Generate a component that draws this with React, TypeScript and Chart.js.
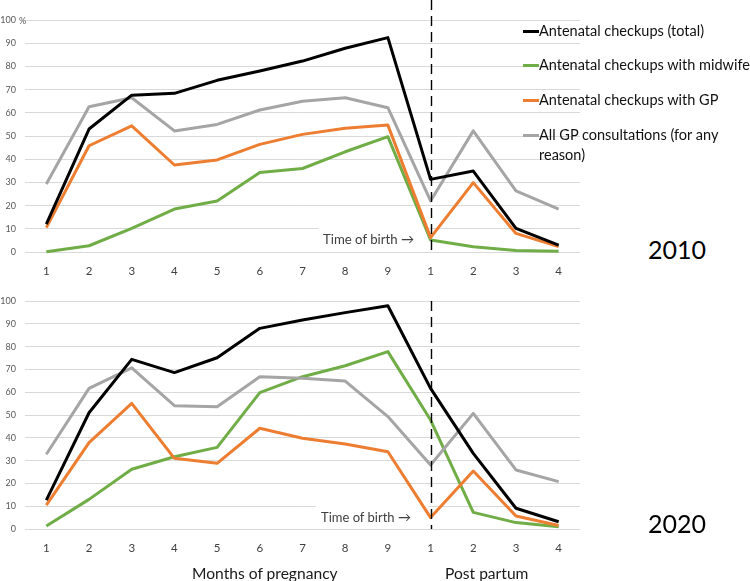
import React, { useEffect, useRef } from "react";
import { Chart, registerables } from "chart.js";

Chart.register(...registerables);

// Months 1–9 of pregnancy, then months 1–4 after birth
const months = ["1", "2", "3", "4", "5", "6", "7", "8", "9", "1", "2", "3", "4"];

const seriesNames = [
  "Antenatal checkups (total)",
  "Antenatal checkups with midwife",
  "Antenatal checkups with GP",
  "All GP consultations (for any reason)",
];
const seriesColors = ["#000000", "#70AD47", "#ED7D31", "#A5A5A5"];

// 2010 (%)
const total2010 = [12, 53, 67.6, 68.4, 74, 78, 82.3, 87.8, 92.4, 31.3, 34.9, 10.2, 3];
const midwife2010 = [0.1, 2.7, 10.2, 18.5, 22, 34.3, 36, 43.2, 49.7, 5.2, 2.3, 0.6, 0.3];
const gp2010 = [10.5, 45.8, 54.4, 37.5, 39.7, 46.4, 50.7, 53.3, 54.7, 6.2, 29.9, 8, 2.3];
const allGp2010 = [29.3, 62.6, 66.5, 52.2, 55, 61.2, 65, 66.5, 62.2, 22, 52.2, 26.3, 18.5];

// 2020 (%)
const total2020 = [12.7, 51, 74.4, 68.6, 75.1, 88, 91.7, 94.9, 97.9, 61.7, 33.2, 9.1, 3.2];
const midwife2020 = [1.3, 13, 26.2, 31.7, 35.8, 59.8, 66.8, 71.6, 77.8, 47.8, 7.3, 2.8, 1];
const gp2020 = [10.5, 37.9, 55.1, 31, 28.8, 44.2, 39.8, 37.3, 33.9, 5, 25.4, 5.7, 1.5];
const allGp2020 = [32.8, 61.7, 70.7, 54.1, 53.6, 66.8, 66.1, 64.9, 49.3, 28.1, 50.7, 25.9, 20.8];

const yMin = 0;
const yMax = 100;
const yStep = 10;

// index of the first post-partum month (time of birth)
const birthIndex = 9;

const FONT = "Lato, 'Open Sans', sans-serif";

// white patch behind the "Time of birth" note, then dashed birth marker on top
const birthMarker = {
  id: "birthMarker",
  beforeDatasetsDraw(chart: any, _args: any, opts: any) {
    const { ctx } = chart;
    const x = chart.scales.x.getPixelForValue(opts.index);
    const y = chart.scales.y;
    const top = y.getPixelForValue(opts.boxHigh);
    const bottom = y.getPixelForValue(opts.boxLow);
    ctx.save();
    ctx.fillStyle = "#ffffff";
    ctx.fillRect(x - opts.boxWidth, top, opts.boxWidth - 2, bottom - top);
    ctx.restore();
  },
  afterDatasetsDraw(chart: any, _args: any, opts: any) {
    const { ctx, chartArea } = chart;
    const x = Math.round(chart.scales.x.getPixelForValue(opts.index)) + 0.5;
    ctx.save();
    ctx.strokeStyle = "#000000";
    ctx.lineWidth = 1.4;
    ctx.setLineDash([10, 6]);
    ctx.beginPath();
    ctx.moveTo(x, opts.fromCanvasTop ? 0 : chartArea.top);
    ctx.lineTo(x, chartArea.bottom);
    ctx.stroke();
    ctx.restore();
  },
};

function makeConfig(series: number[][], padTop: number, xHeight: number, fromCanvasTop: boolean, boxWidth: number) {
  return {
    type: "line" as const,
    data: {
      labels: months,
      datasets: series.map((values, i) => ({
        label: seriesNames[i],
        data: values,
        borderColor: seriesColors[i],
        backgroundColor: seriesColors[i],
        borderWidth: 3,
        pointRadius: 0,
        tension: 0,
        borderJoinStyle: "round" as const,
        clip: false as const,
        order: i === 0 ? 0 : 4 - i,
      })),
    },
    options: {
      responsive: false,
      animation: false as const,
      devicePixelRatio: 1,
      layout: { padding: { top: padTop, right: 20, bottom: 0, left: 0 } },
      plugins: {
        legend: { display: false },
        tooltip: { enabled: false },
        birthMarker: { index: birthIndex, fromCanvasTop, boxWidth, boxHigh: 11.5, boxLow: 1 },
      } as any,
      scales: {
        x: {
          offset: true,
          grid: { display: false, drawTicks: false },
          border: { display: false },
          ticks: {
            padding: 12,
            color: "#404040",
            font: { family: FONT, size: 11.5 },
            maxRotation: 0,
            autoSkip: false,
          },
          afterFit: (scale: any) => {
            scale.height = xHeight;
          },
        },
        y: {
          min: yMin,
          max: yMax,
          grid: { color: "#D9D9D9", lineWidth: 1, drawTicks: false },
          border: { display: false },
          ticks: {
            stepSize: yStep,
            padding: 9,
            color: "#595959",
            font: { family: FONT, size: 9 },
          },
          afterFit: (scale: any) => {
            scale.width = 25;
          },
        },
      },
    },
    plugins: [birthMarker],
  };
}

function Panel({ series, top, height, padTop, xHeight, fromCanvasTop, boxWidth }: any) {
  const ref = useRef<HTMLCanvasElement | null>(null);
  useEffect(() => {
    if (!ref.current) return;
    const chart = new Chart(ref.current, makeConfig(series, padTop, xHeight, fromCanvasTop, boxWidth) as any);
    return () => chart.destroy();
  }, []);
  return (
    <canvas
      ref={ref}
      width={600}
      height={height}
      style={{ position: "absolute", left: 0, top, width: 600, height }}
    />
  );
}

function Text({ children, left, centerY, size, color = "#000", lh }: any) {
  const lineH = lh ?? Math.round(size * 1.4);
  return (
    <div
      style={{
        position: "absolute",
        left,
        top: centerY - lineH / 2,
        fontFamily: FONT,
        fontSize: size,
        lineHeight: `${lineH}px`,
        color,
        whiteSpace: "nowrap",
      }}
    >
      {children}
    </div>
  );
}

const legendCenters = [31, 65, 100, 135];

export default function App() {
  return (
    <div
      style={{
        position: "absolute",
        left: 0,
        top: 0,
        width: 750,
        height: 581,
        background: "#ffffff",
        overflow: "hidden",
      }}
    >
      <Panel
        series={[total2010, midwife2010, gp2010, allGp2010]}
        top={0}
        height={290}
        padTop={20}
        xHeight={38}
        fromCanvasTop={true}
        boxWidth={112}
      />
      <Panel
        series={[total2020, midwife2020, gp2020, allGp2020]}
        top={280}
        height={280}
        padTop={21}
        xHeight={31}
        fromCanvasTop={false}
        boxWidth={115}
      />

      <Text left={19} centerY={20} size={9} color="#595959">%</Text>

      <Text left={323} centerY={239} size={13.2} color="#404040">Time of birth →</Text>
      <Text left={321} centerY={517} size={13} color="#404040">Time of birth →</Text>

      {seriesNames.map((name, i) => (
        <React.Fragment key={name}>
          <div
            style={{
              position: "absolute",
              left: 523,
              top: legendCenters[i] - 1.5,
              width: 16,
              height: 3,
              background: seriesColors[i],
            }}
          />
          <div
            style={{
              position: "absolute",
              left: 539,
              top: legendCenters[i] - 10,
              width: i === 3 ? 205 : 215,
              fontFamily: FONT,
              fontSize: 14.5,
              lineHeight: "19.5px",
              color: "#111",
              whiteSpace: i === 3 ? "normal" : "nowrap",
            }}
          >
            {name}
          </div>
        </React.Fragment>
      ))}

      <Text left={648} centerY={249} size={25}>2010</Text>
      <Text left={648} centerY={523} size={25}>2020</Text>

      <Text left={192} centerY={573} size={15.6} color="#1a1a1a">Months of pregnancy</Text>
      <Text left={445} centerY={573} size={15.6} color="#1a1a1a">Post partum</Text>
    </div>
  );
}
